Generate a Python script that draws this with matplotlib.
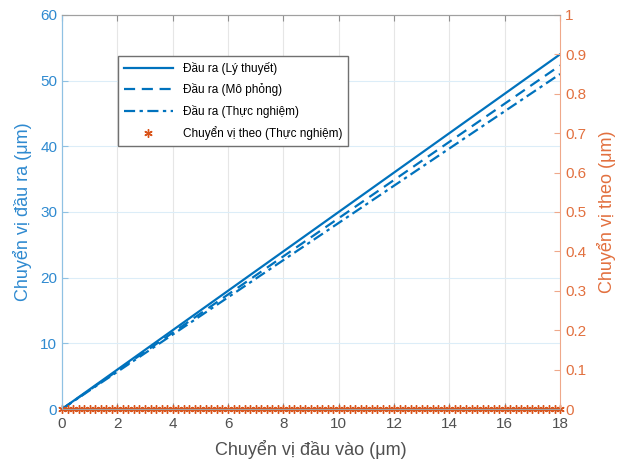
import numpy as np
import matplotlib
matplotlib.use("Agg")
import matplotlib.pyplot as plt

plt.rcParams['font.family'] = ['Liberation Sans', 'DejaVu Sans']

# Dau vao / dau ra (um)
x_in = [0, 18]
y_ly_thuyet = [0, 54.0]
y_mo_phong = [0, 52.3]
y_thuc_nghiem = [0, 51.0]

# Chuyen vi theo do duoc (thuc nghiem)
x_theo = np.round(np.arange(0, 18.01, 0.2), 2)
y_theo = [0.0] * len(x_theo)

xanh = '#0072BD'
cam = '#D95319'
xanh_nhat = '#2f8ad0'
cam_nhat = '#e2703f'
xam = '#505050'

fig = plt.figure(figsize=(6.24, 4.62), dpi=100)
ax = fig.add_axes([0.0994, 0.1147, 0.7981, 0.853])
ax2 = ax.twinx()

l1, = ax.plot(x_in, y_ly_thuyet, '-', color=xanh, lw=1.6, label='Đầu ra (Lý thuyết)')
l2, = ax.plot(x_in, y_mo_phong, '--', color=xanh, lw=1.6, dashes=(5, 3), label='Đầu ra (Mô phỏng)')
l3, = ax.plot(x_in, y_thuc_nghiem, '-.', color=xanh, lw=1.6, dashes=(5, 2, 1.5, 2), label='Đầu ra (Thực nghiệm)')
# dau * kieu MATLAB (asterisk)
l4, = ax2.plot(x_theo, y_theo, linestyle='none', marker=(6, 2, 0), color=cam, ms=6, mew=1.0,
               clip_on=False, label='Chuyển vị theo (Thực nghiệm)')

ax.set_xlim(0, 18)
ax.set_ylim(0, 60)
ax2.set_ylim(0, 1)
ax.set_xticks(range(0, 19, 2))
ax.set_yticks(range(0, 61, 10))
ax2.set_yticks(np.round(np.arange(0, 1.01, 0.1), 1))
ax2.set_yticklabels(['0'] + ['%.1f' % v for v in np.arange(0.1, 0.95, 0.1)] + ['1'])

# luoi
for v in range(2, 18, 2):
    ax.axvline(v, color='#e6e6e6', lw=0.8, zorder=0)
for v in range(10, 60, 10):
    ax.axhline(v, color='#dcedf8', lw=0.8, zorder=0)

ax.tick_params(axis='x', direction='in', colors='#909090', labelcolor=xam, labelsize=11,
               length=4, top=True, pad=6)
ax.tick_params(axis='y', direction='in', colors='#8fc1e3', labelcolor=xanh_nhat, labelsize=11, length=4)
ax2.tick_params(axis='y', direction='in', colors='#efa88a', labelcolor=cam_nhat, labelsize=11, length=4)

for s in ['top', 'bottom']:
    ax2.spines[s].set_color('#a0a0a0')
ax2.spines['left'].set_color('#8fc1e3')
ax2.spines['right'].set_color('#efa88a')
ax.spines['left'].set_color('#8fc1e3')
ax.spines['right'].set_visible(False)
ax.spines['top'].set_color('#a0a0a0')
ax.spines['bottom'].set_color('#a0a0a0')

ax.set_xlabel('Chuyển vị đầu vào (μm)', fontsize=13, color=xam, labelpad=6)
ax.set_ylabel('Chuyển vị đầu ra (μm)', fontsize=13, color=xanh_nhat, labelpad=6)
ax2.set_ylabel('Chuyển vị theo (μm)', fontsize=13, color=cam_nhat, labelpad=8)

ax2.legend(handles=[l1, l2, l3, l4], loc='upper left', bbox_to_anchor=(0.1, 0.91),
           fontsize=8.5, frameon=True, fancybox=False, edgecolor='#707070',
           handlelength=4.2, borderpad=0.5, labelspacing=0.7, framealpha=1)

fig.savefig('out.png', dpi=100)
